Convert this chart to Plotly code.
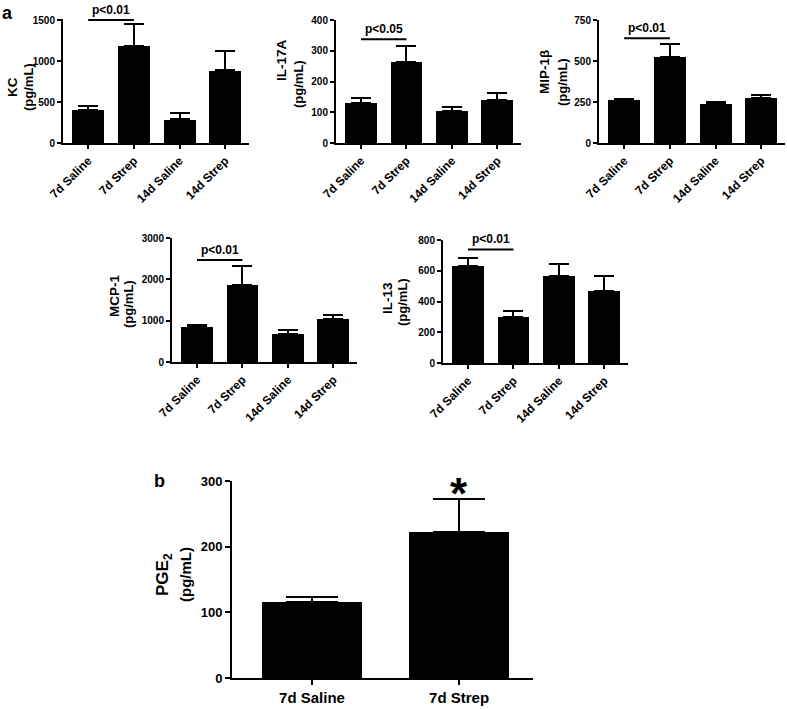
import plotly.graph_objects as go

W, H = 787, 709
FONT = "Liberation Sans, Arial, sans-serif"

categories = ["7d Saline", "7d Strep", "14d Saline", "14d Strep"]

kc_mean = [408, 1182, 289, 885]
kc_sem = [42, 269, 82, 236]
il17a_mean = [131, 265, 104, 141]
il17a_sem = [15, 50, 14, 20]
mip1b_mean = [261, 526, 240, 275]
mip1b_sem = [8, 75, 13, 16]
mcp1_mean = [851, 1865, 673, 1038]
mcp1_sem = [42, 446, 97, 105]
il13_mean = [633, 300, 565, 470]
il13_sem = [47, 41, 81, 97]

pge_categories = ["7d Saline", "7d Strep"]
pge2_mean = [115.6, 222.5]
pge2_sem = [7, 49.5]

kc_ticks = [0, 500, 1000, 1500]
il17a_ticks = [0, 100, 200, 300, 400]
mip1b_ticks = [0, 250, 500, 750]
mcp1_ticks = [0, 1000, 2000, 3000]
il13_ticks = [0, 200, 400, 600, 800]
pge2_ticks = [0, 100, 200, 300]

sig_labels = ["p<0.01", "p<0.05", "p<0.01", "p<0.01", "p<0.01"]
sig_levels = [1500, 337, 638, 2465, 739]
star_label = "*"


def xdom(a, b):
    return [a / W, b / W]


def ydom(top, bottom):
    return [1 - bottom / H, 1 - top / H]


panels = [
    dict(mean=kc_mean, sem=kc_sem, ticks=kc_ticks, xl=63, xr=249, y0=143, yt=20, rmax=1515,
         title="KC", tpos=(12, 87), upos=(28, 87)),
    dict(mean=il17a_mean, sem=il17a_sem, ticks=il17a_ticks, xl=336, xr=521, y0=143, yt=20, rmax=400,
         title="IL-17A", tpos=(282, 60), upos=(298, 84)),
    dict(mean=mip1b_mean, sem=mip1b_sem, ticks=mip1b_ticks, xl=599, xr=785, y0=143, yt=20, rmax=750,
         title="MIP-1β", tpos=(545, 72), upos=(562, 82)),
    dict(mean=mcp1_mean, sem=mcp1_sem, ticks=mcp1_ticks, xl=172, xr=357, y0=362, yt=238, rmax=3000,
         title="MCP-1", tpos=(114, 296), upos=(128, 304)),
    dict(mean=il13_mean, sem=il13_sem, ticks=il13_ticks, xl=443, xr=628, y0=363, yt=240, rmax=800,
         title="IL-13", tpos=(387, 298), upos=(402, 302)),
]

fig = go.Figure()
layout = dict(
    template="none", autosize=False,
    width=W, height=H, margin=dict(l=0, r=0, t=0, b=0, pad=0, autoexpand=False),
    paper_bgcolor="white", plot_bgcolor="white", showlegend=False,
    font=dict(family=FONT, color="black"),
    bargap=0,
)
annotations = []

axis_common = dict(showline=True, linecolor="black", linewidth=2, ticks="outside", ticklen=4,
                   tickwidth=2, tickcolor="black", showgrid=False, zeroline=False, fixedrange=True,
                   automargin=False)

for i, p in enumerate(panels):
    k = i + 1
    xa = "x" if k == 1 else f"x{k}"
    ya = "y" if k == 1 else f"y{k}"
    n = len(categories)
    xs = list(range(n))
    fig.add_trace(go.Bar(
        x=xs, y=p["mean"], width=0.7, marker=dict(color="black", line=dict(width=0)),
        error_y=dict(type="data", array=p["sem"], arrayminus=[0] * n, symmetric=False,
                     color="black", thickness=2, width=10),
        xaxis=xa, yaxis=ya, hoverinfo="skip"))
    fig.add_trace(go.Scatter(
        x=[0, 1], y=[sig_levels[i], sig_levels[i]], mode="lines",
        line=dict(color="black", width=2), xaxis=xa, yaxis=ya, hoverinfo="skip", cliponaxis=False))
    annotations.append(dict(
        x=0.5, y=sig_levels[i], xref=xa, yref=ya, text=sig_labels[i], showarrow=False,
        yanchor="bottom", yshift=1,
        font=dict(family=FONT, size=12, color="black", weight="bold")))

    ppu = (p["y0"] - p["yt"]) / p["ticks"][-1]
    top_px = p["y0"] - p["rmax"] * ppu
    layout["xaxis" if k == 1 else f"xaxis{k}"] = dict(
        axis_common, domain=xdom(p["xl"], p["xr"]), anchor=ya, range=[-0.55, 3.52],
        tickvals=xs, ticktext=categories, tickangle=-45,
        tickfont=dict(family=FONT, size=12, color="black", weight="bold"))
    layout["yaxis" if k == 1 else f"yaxis{k}"] = dict(
        axis_common, domain=ydom(top_px, p["y0"]), anchor=xa, range=[0, p["rmax"]],
        tickvals=p["ticks"], ticktext=[str(t) for t in p["ticks"]],
        tickfont=dict(family=FONT, size=10, color="black", weight="bold"))

    annotations.append(dict(
        x=p["tpos"][0] / W, y=1 - p["tpos"][1] / H, xref="paper", yref="paper", text=p["title"],
        textangle=-90, showarrow=False, xanchor="center", yanchor="middle",
        font=dict(family=FONT, size=13.5, color="black", weight="bold")))
    annotations.append(dict(
        x=p["upos"][0] / W, y=1 - p["upos"][1] / H, xref="paper", yref="paper", text="(pg/mL)",
        textangle=-90, showarrow=False, xanchor="center", yanchor="middle",
        font=dict(family=FONT, size=13, color="black", weight="bold")))

# panel b
n2 = len(pge_categories)
xs2 = list(range(n2))
fig.add_trace(go.Bar(
    x=xs2, y=pge2_mean, width=0.68, marker=dict(color="black", line=dict(width=0)),
    error_y=dict(type="data", array=pge2_sem, arrayminus=[0] * n2, symmetric=False,
                 color="black", thickness=2, width=26),
    xaxis="x6", yaxis="y6", hoverinfo="skip"))
layout["xaxis6"] = dict(
    axis_common, domain=xdom(232, 533), anchor="y6", range=[-0.544, 1.503],
    tickvals=xs2, ticktext=pge_categories, tickangle=0, ticklen=5,
    tickfont=dict(family=FONT, size=15, color="black", weight="bold"))
layout["yaxis6"] = dict(
    axis_common, domain=ydom(481, 678), anchor="x6", range=[0, 300], ticklen=5,
    tickvals=pge2_ticks, ticktext=[str(t) for t in pge2_ticks],
    tickfont=dict(family=FONT, size=13, color="black", weight="bold"))
annotations.append(dict(
    x=1, y=pge2_mean[1] + pge2_sem[1], xref="x6", yref="y6", text=star_label, showarrow=False,
    yanchor="middle", yshift=6,
    font=dict(family=FONT, size=44, color="black", weight="bold")))
annotations.append(dict(
    x=164 / W, y=1 - 575 / H, xref="paper", yref="paper", text="PGE<sub>2</sub>",
    textangle=-90, showarrow=False, xanchor="center", yanchor="middle",
    font=dict(family=FONT, size=17, color="black", weight="bold")))
annotations.append(dict(
    x=185 / W, y=1 - 575 / H, xref="paper", yref="paper", text="(pg/mL)",
    textangle=-90, showarrow=False, xanchor="center", yanchor="middle",
    font=dict(family=FONT, size=15, color="black", weight="bold")))

annotations.append(dict(x=7 / W, y=1 - 13 / H, xref="paper", yref="paper", text="a", showarrow=False,
                        xanchor="center", yanchor="middle",
                        font=dict(family=FONT, size=18, color="black", weight="bold")))
annotations.append(dict(x=159 / W, y=1 - 481 / H, xref="paper", yref="paper", text="b", showarrow=False,
                        xanchor="center", yanchor="middle",
                        font=dict(family=FONT, size=18, color="black", weight="bold")))

layout["annotations"] = annotations
fig.update_layout(**layout)
fig.write_html(
    "out.html",
    config={"responsive": False, "displayModeBar": False},
    default_width=f"{W}px", default_height=f"{H}px",
    post_script="document.body.style.margin='0';document.body.style.overflow='hidden';",
)
